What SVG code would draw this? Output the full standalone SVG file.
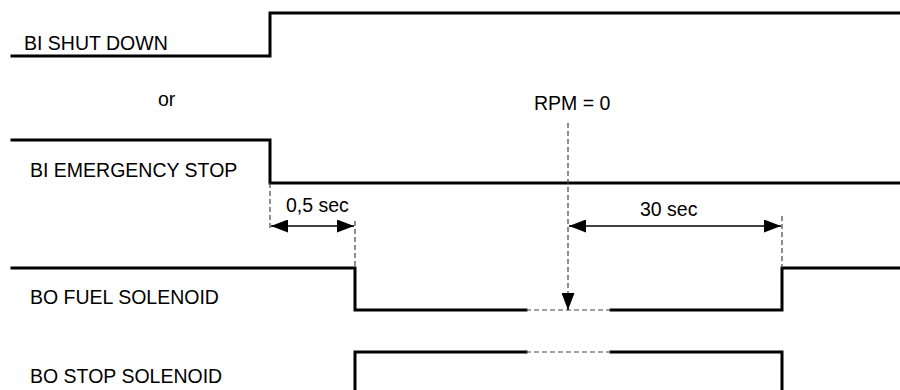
<svg xmlns="http://www.w3.org/2000/svg" width="900" height="390" viewBox="0 0 900 390">
<defs>
<style>
.sig{fill:none;stroke:#000;stroke-width:3;stroke-linejoin:miter;stroke-linecap:square}
.dash{fill:none;stroke:#444;stroke-width:1.2;stroke-dasharray:5,3}
.dim{fill:none;stroke:#000;stroke-width:1.3}
.lbl{font-family:"Liberation Sans",Arial,sans-serif;font-size:19.5px;fill:#000}
</style>
<marker id="ah" viewBox="0 0 17 13" refX="17" refY="6.5" markerWidth="17" markerHeight="13" markerUnits="userSpaceOnUse" orient="auto-start-reverse">
<path d="M0,0 L17,6.5 L0,13 Z" fill="#000"/>
</marker>
</defs>
<rect width="900" height="390" fill="#fff"/>
<g id="bi-shut-down">
<path class="sig" d="M12,56 H270 V13 H900"/>
<text class="lbl" x="24" y="50">BI SHUT DOWN</text>
</g>
<g id="or-label">
<text class="lbl" x="158" y="106">or</text>
</g>
<g id="bi-emergency-stop">
<path class="sig" d="M12,140 H270 V183 H900"/>
<text class="lbl" x="30" y="177">BI EMERGENCY STOP</text>
</g>
<g id="bo-fuel-solenoid">
<path class="sig" d="M12,268 H355 V310 H526"/>
<path class="sig" d="M611,310 H782 V268 H900"/>
<path class="dash" d="M526,310 H611"/>
<text class="lbl" x="30" y="304">BO FUEL SOLENOID</text>
</g>
<g id="bo-stop-solenoid">
<path class="sig" d="M355,395 V352 H526"/>
<path class="sig" d="M611,352 H782 V395"/>
<path class="dash" d="M526,352 H611"/>
<text class="lbl" x="30" y="383">BO STOP SOLENOID</text>
</g>
<g id="connectors">
<path class="dash" d="M270,183 V228"/>
<path class="dash" d="M355,221 V268"/>
<path class="dim" d="M271,226 H354" marker-start="url(#ah)" marker-end="url(#ah)"/>
<path class="dash" d="M568,123 V298"/>
<path class="dim" d="M568,294 V310" stroke="none" marker-end="url(#ah)"/>
<path class="dash" d="M782,216 V268"/>
<path class="dim" d="M569,226 H781" marker-start="url(#ah)" marker-end="url(#ah)"/>
</g>
<g id="labels">
<text class="lbl" x="286" y="212">0,5 sec</text>
<text class="lbl" x="534" y="110">RPM = 0</text>
<text class="lbl" x="640" y="216">30 sec</text>
</g>
</svg>
